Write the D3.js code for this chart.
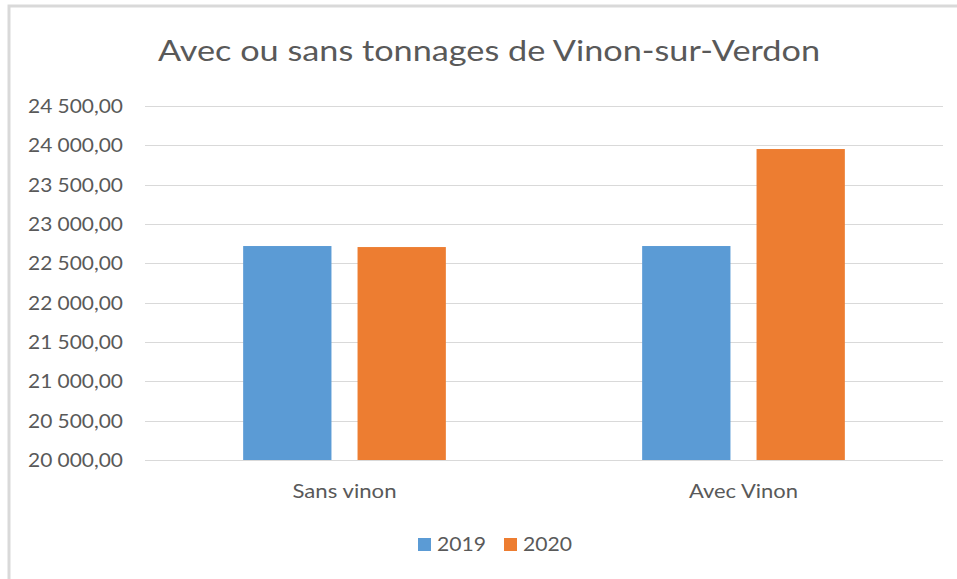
<!DOCTYPE html>
<html>
<head>
<meta charset="utf-8">
<script src="https://cdn.jsdelivr.net/npm/d3@7"></script>
<style>
  body { margin: 0; background: #fff; }
  text { font-family: Lato, "Open Sans", sans-serif; fill: #595959; }
</style>
</head>
<body>
<script>
// data
var categories = ["Sans vinon", "Avec Vinon"];
var years = ["2019", "2020"];
var values2019 = [22720, 22720];
var values2020 = [22707, 23953];
var yTicks = [20000, 20500, 21000, 21500, 22000, 22500, 23000, 23500, 24000, 24500];
var colors = ["#5b9bd5", "#ed7d31"];

var rows = categories.map(function(c, i) {
  return {cat: c, vals: [values2019[i], values2020[i]]};
});

var W = 957, H = 579;
var svg = d3.select("body").append("svg")
  .attr("width", W)
  .attr("height", H);

// chart border (only top + left visible)
svg.append("rect")
  .attr("x", 9).attr("y", 6)
  .attr("width", W + 10).attr("height", H + 10)
  .attr("fill", "none")
  .attr("stroke", "#d9d9d9")
  .attr("stroke-width", 3);

var x0 = d3.scaleBand()
  .domain(categories)
  .range([145, 943])
  .paddingInner(0.492)
  .paddingOuter(0.246);

var x1 = d3.scaleBand()
  .domain(years)
  .range([0, x0.bandwidth()])
  .paddingInner(0.228);

var y = d3.scaleLinear()
  .domain([20000, 24500])
  .range([460, 106]);

var fr = d3.formatLocale({decimal: ",", thousands: " ", grouping: [3], currency: ["", ""]});
var fmt = fr.format(",.2f");

// gridlines
svg.append("g").selectAll("line")
  .data(yTicks)
  .enter()
  .append("line")
  .attr("x1", 145).attr("x2", 943)
  .attr("y1", function(d) { return Math.round(y(d)) + 0.5; })
  .attr("y2", function(d) { return Math.round(y(d)) + 0.5; })
  .attr("stroke", "#d9d9d9")
  .attr("stroke-width", 1);

// y labels
svg.append("g").selectAll("text")
  .data(yTicks)
  .enter()
  .append("text")
  .attr("x", 123)
  .attr("y", function(d) { return y(d) + 7; })
  .attr("text-anchor", "end")
  .attr("font-size", "19px")
  .attr("textLength", 95)
  .attr("lengthAdjust", "spacingAndGlyphs")
  .text(function(d) { return fmt(d); });

// bars
var groups = svg.append("g").selectAll("g")
  .data(rows)
  .enter()
  .append("g")
  .attr("transform", function(d) { return "translate(" + x0(d.cat) + ",0)"; });

groups.selectAll("rect")
  .data(function(d) { return d.vals.map(function(v, i) { return {year: years[i], v: v, i: i}; }); })
  .enter()
  .append("rect")
  .attr("x", function(d) { return x1(d.year); })
  .attr("width", x1.bandwidth())
  .attr("y", function(d) { return y(d.v); })
  .attr("height", function(d) { return y(20000) - y(d.v); })
  .attr("fill", function(d) { return colors[d.i]; });

// category labels
var catW = [104, 109];
svg.append("g").selectAll("text")
  .data(categories)
  .enter()
  .append("text")
  .attr("x", function(d) { return x0(d) + x0.bandwidth() / 2; })
  .attr("y", 498)
  .attr("text-anchor", "middle")
  .attr("font-size", "19px")
  .attr("textLength", function(d, i) { return catW[i]; })
  .attr("lengthAdjust", "spacingAndGlyphs")
  .text(function(d) { return d; });

// title
svg.append("text")
  .attr("x", 489)
  .attr("y", 61)
  .attr("text-anchor", "middle")
  .attr("font-size", "29px")
  .attr("textLength", 662)
  .attr("lengthAdjust", "spacingAndGlyphs")
  .text("Avec ou sans tonnages de Vinon-sur-Verdon");

// legend
var legX = [418, 504];
var leg = svg.append("g").selectAll("g")
  .data(years)
  .enter()
  .append("g")
  .attr("transform", function(d, i) { return "translate(" + legX[i] + ",538)"; });
leg.append("rect")
  .attr("width", 13).attr("height", 13)
  .attr("fill", function(d, i) { return colors[i]; });
leg.append("text")
  .attr("x", 19)
  .attr("y", 13)
  .attr("font-size", "19px")
  .attr("textLength", 49)
  .attr("lengthAdjust", "spacingAndGlyphs")
  .text(function(d) { return d; });
</script>
</body>
</html>
